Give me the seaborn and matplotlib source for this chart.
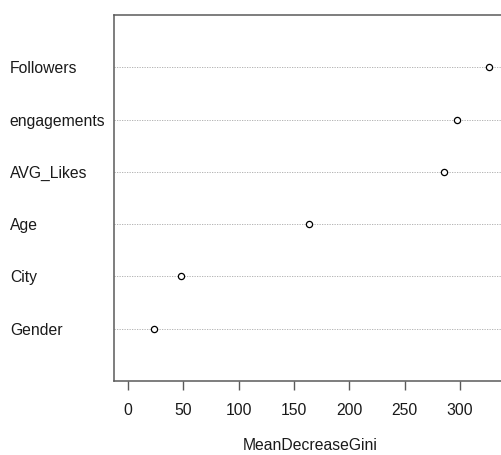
import matplotlib
matplotlib.use("Agg")
import matplotlib.pyplot as plt
import seaborn as sns
import pandas as pd

# Variable importance from the random forest (bottom to top)
features = ["Gender", "City", "Age", "AVG_Likes", "engagements", "Followers"]
gini = [23.5, 48, 163.5, 285.5, 297, 326]

xticks = [0, 50, 100, 150, 200, 250, 300]

sns.set_style("white")
plt.rcParams["font.family"] = ["Liberation Sans", "DejaVu Sans"]

df = pd.DataFrame({"feature": features, "MeanDecreaseGini": gini})

W, H = 502, 455
fig = plt.figure(figsize=(W / 100, H / 100), dpi=100)
left, right, top, bottom = 114, 506, 15, 381
ax = fig.add_axes([left / W, 1 - bottom / H, (right - left) / W, (bottom - top) / H])

ax.grid(axis="y", linestyle=(0, (1.5, 1.5)), color="#a8a8a8", linewidth=0.6)
ax.grid(axis="x", visible=False)
ax.set_axisbelow(True)

sns.scatterplot(data=df, x="MeanDecreaseGini", y="feature", ax=ax,
                marker="o", s=20, facecolor="white", edgecolor="black",
                linewidth=0.9, zorder=3)

ax.set_xlim(-12.65, 341.6)
ax.set_ylim(-1, len(features))
ax.set_xticks(xticks)
ax.set_xticklabels([str(t) for t in xticks])

for sp in ax.spines.values():
    sp.set_color("#5a5a5a")
    sp.set_linewidth(1.1)

ax.tick_params(axis="x", direction="out", length=6.5, width=1.0, color="#5a5a5a",
               pad=9.5, labelsize=11.3, labelcolor="#1a1a1a", bottom=True)
ax.tick_params(axis="y", length=0, pad=75, labelsize=11.3, labelcolor="#1a1a1a")
for lbl in ax.get_yticklabels():
    lbl.set_horizontalalignment("left")

ax.set_ylabel("")
ax.set_xlabel("MeanDecreaseGini", fontsize=11.3, color="#1a1a1a", labelpad=14)

fig.savefig("out.png", dpi=100)
